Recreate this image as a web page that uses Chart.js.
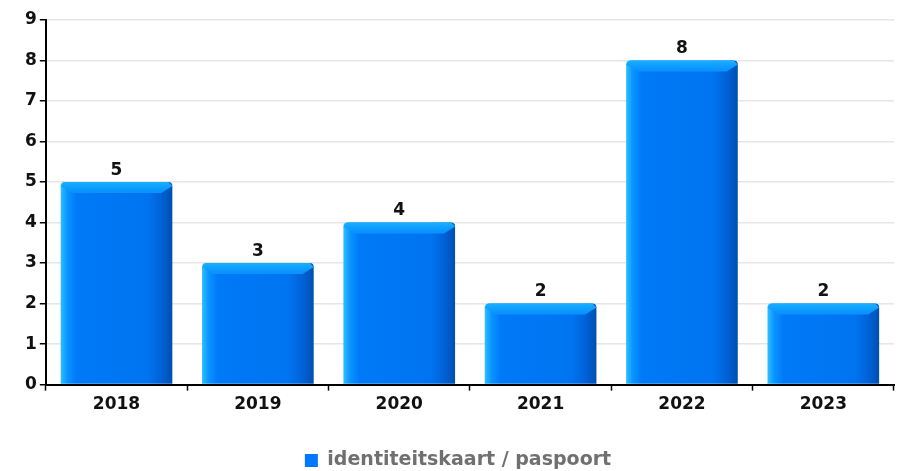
<!DOCTYPE html>
<html lang="en">
<head>
  <meta charset="UTF-8">
  <title>identiteitskaart / paspoort</title>
  <style>
    body { margin: 0; background: #fff; }
    #wrap { width: 903px; height: 471px; }
  </style>
</head>
<body>
  <div id="wrap"><canvas id="chart"></canvas></div>

  <script src="https://cdn.jsdelivr.net/npm/chart.js"></script>
  <script>
    const years = ['2018', '2019', '2020', '2021', '2022', '2023'];
    const counts = [5, 3, 4, 2, 8, 2];
    const seriesName = 'identiteitskaart / paspoort';
    const yTicks = [0, 1, 2, 3, 4, 5, 6, 7, 8, 9];

    const FONT = "'DejaVu Sans', sans-serif";
    const BAR_PCT = 0.79;

    // horizontal shading across each bar
    function barFill(ctx) {
      const chart = ctx.chart;
      const xs = chart.scales.x;
      if (!chart.chartArea || !xs || !xs.width) return '#0077f5';
      const w = xs.width / years.length * BAR_PCT;
      const cx = xs.getPixelForValue(ctx.dataIndex);
      const g = chart.ctx.createLinearGradient(cx - w / 2, 0, cx + w / 2, 0);
      g.addColorStop(0, '#2ec0ff');
      g.addColorStop(0.06, '#0a94ff');
      g.addColorStop(0.14, '#007af8');
      g.addColorStop(0.78, '#0074f0');
      g.addColorStop(0.9, '#0062d8');
      g.addColorStop(1, '#0050b0');
      return g;
    }

    // lighter bevel along the top of each bar + value labels
    const bevelAndLabels = {
      id: 'bevelAndLabels',
      afterDatasetsDraw(chart) {
        const c = chart.ctx;
        const meta = chart.getDatasetMeta(0);
        meta.data.forEach((bar, i) => {
          const l = bar.x - bar.width / 2, r = bar.x + bar.width / 2, t = bar.y;
          const d = 9;
          const g = c.createLinearGradient(0, t, 0, t + d);
          g.addColorStop(0, '#18b0ff');
          g.addColorStop(1, '#0a92ff');
          c.save();
          c.fillStyle = g;
          c.beginPath();
          c.moveTo(l + 4, t);
          c.lineTo(r - 4, t);
          c.lineTo(r, t + 4);
          c.lineTo(r - d - 2, t + d + 2);
          c.lineTo(l + d + 2, t + d + 2);
          c.lineTo(l, t + 4);
          c.closePath();
          c.fill();
          c.fillStyle = '#111';
          c.font = 'bold 17px ' + FONT;
          c.textAlign = 'center';
          c.textBaseline = 'bottom';
          c.fillText(String(counts[i]), bar.x, t - 3);
          c.restore();
        });
      }
    };

    new Chart(document.getElementById('chart'), {
      type: 'bar',
      data: {
        labels: years,
        datasets: [{
          label: seriesName,
          data: counts,
          backgroundColor: barFill,
          borderWidth: 0,
          borderRadius: { topLeft: 4, topRight: 4 },
          borderSkipped: 'bottom',
          categoryPercentage: BAR_PCT,
          barPercentage: 1
        }]
      },
      options: {
        responsive: true,
        maintainAspectRatio: false,
        animation: false,
        layout: { padding: { left: 22, right: 9, top: 20, bottom: -9 } },
        plugins: {
          tooltip: { enabled: false },
          legend: {
            position: 'bottom',
            labels: {
              boxWidth: 13,
              boxHeight: 13,
              padding: 32,
              color: '#707070',
              font: { family: FONT, size: 19, weight: 'bold' },
              generateLabels() {
                return [{ text: seriesName, fillStyle: '#0077ff', strokeStyle: '#0077ff', lineWidth: 0, fontColor: '#707070' }];
              }
            }
          }
        },
        scales: {
          x: {
            offset: true,
            grid: { offset: true, drawOnChartArea: false, tickLength: 6, tickColor: '#000', tickWidth: 1.5 },
            border: { color: '#000', width: 2 },
            ticks: { color: '#111', padding: 4, font: { family: FONT, size: 17, weight: 'bold' } }
          },
          y: {
            min: 0,
            max: 9,
            afterBuildTicks(axis) { axis.ticks = yTicks.map(v => ({ value: v })); },
            grid: { color: '#e6e6e6', lineWidth: 1.5, tickLength: 6, tickColor: '#000', tickWidth: 1.5 },
            border: { color: '#000', width: 2 },
            ticks: { color: '#111', padding: 3, font: { family: FONT, size: 17, weight: 'bold' } }
          }
        }
      },
      plugins: [bevelAndLabels]
    });
  </script>
</body>
</html>
